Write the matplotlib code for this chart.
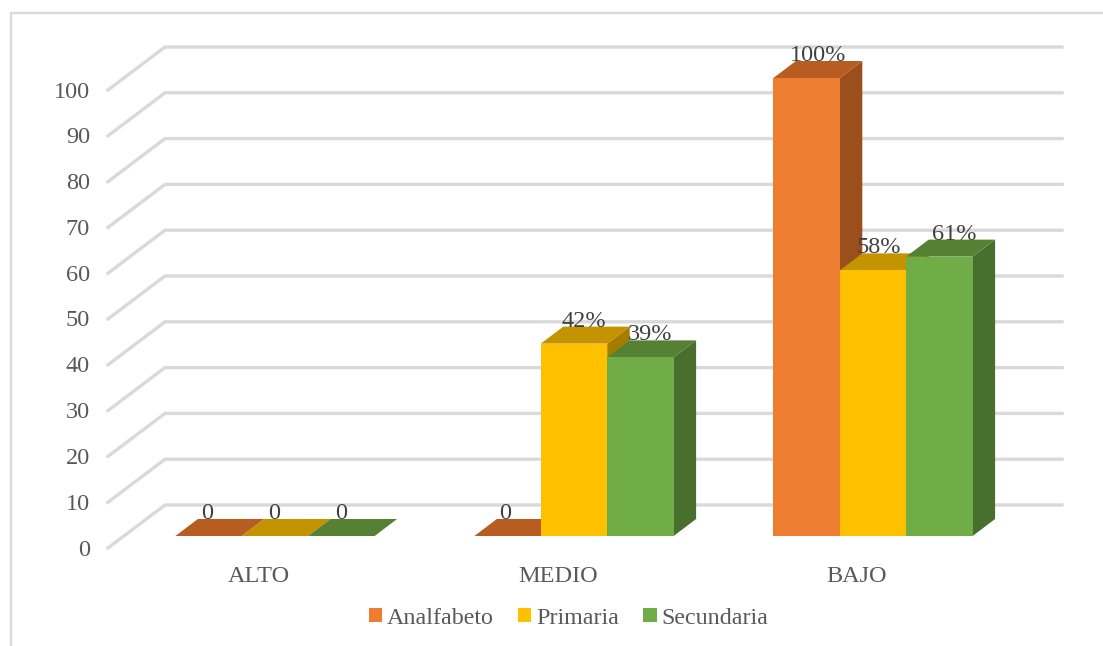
import matplotlib
matplotlib.use('Agg')
import matplotlib.pyplot as plt
from matplotlib.patches import Polygon, Patch

plt.rcParams['font.family'] = ['Liberation Serif', 'DejaVu Serif']

categories = ['ALTO', 'MEDIO', 'BAJO']
series_names = ['Analfabeto', 'Primaria', 'Secundaria']
analfabeto = [0, 0, 100]
primaria = [0, 42, 58]
secundaria = [0, 39, 61]
y_ticks = [0, 10, 20, 30, 40, 50, 60, 70, 80, 90, 100]

front_colors = ['#ED7D31', '#FFC000', '#70AD47']
top_colors = ['#B85D22', '#C49300', '#568135']
side_colors = ['#9A4F1C', '#A67C00', '#496F2E']
grid_color = '#D9D9D9'
text_color = '#404040'
axis_text_color = '#595959'

W, H = 1103, 646
# pixel layout of the chart, the axes fill the whole figure
PX_CAT0 = 275
PX_CAT = 299
PX_BASE = 536
PX_UNIT = 4.58
bar_w = 66.4 / PX_CAT
depth_x = 22.5 / PX_CAT
depth_y = 17 / PX_UNIT

fig = plt.figure(figsize=(W / 100, H / 100), dpi=100)
ax = fig.add_axes([0, 0, 1, 1])
ax.set_xlim(-PX_CAT0 / PX_CAT, (W - PX_CAT0) / PX_CAT)
ax.set_ylim((PX_BASE - H) / PX_UNIT, PX_BASE / PX_UNIT)
ax.axis('off')


def px_x(px):
    return (px - PX_CAT0) / PX_CAT


def px_dy(px):
    return px / PX_UNIT


# chart frame
ax.plot([px_x(11), px_x(11)], [px_dy(PX_BASE - 646), px_dy(PX_BASE - 13)], color=grid_color, lw=1.6, zorder=1)
ax.plot([px_x(11), px_x(1103)], [px_dy(PX_BASE - 13), px_dy(PX_BASE - 13)], color=grid_color, lw=1.6, zorder=1)

# walls
for v in y_ticks:
    ax.plot([px_x(108), px_x(165), px_x(1062)],
            [v + px_dy(-12), v + px_dy(31), v + px_dy(31)],
            color=grid_color, lw=2.4, solid_joinstyle='miter', zorder=1)
    ax.text(px_x(90), v + px_dy(-14), str(v), ha='right', va='center',
            fontsize=17.5, color=axis_text_color)

# bars, left to right so that later bars paint over earlier sides
all_series = [analfabeto, primaria, secundaria]
z = 2
for c in range(len(categories)):
    for s, values in enumerate(all_series):
        v = values[c]
        x0 = c + (s - 1.5) * bar_w
        x1 = x0 + bar_w
        if v > 0:
            ax.add_patch(Polygon([(x1, 0), (x1 + depth_x, depth_y), (x1 + depth_x, v + depth_y), (x1, v)],
                                 facecolor=side_colors[s], edgecolor='none', zorder=z))
        ax.add_patch(Polygon([(x0, v), (x0 + depth_x, v + depth_y), (x1 + depth_x, v + depth_y), (x1, v)],
                             facecolor=top_colors[s], edgecolor='none', zorder=z))
        if v > 0:
            ax.bar(x0, v, width=bar_w, align='edge', color=front_colors[s], zorder=z)
        z += 1

# value labels
label_nudge = {(2, 1): 6, (2, 2): 15, (1, 1): 10, (1, 2): 10, (2, 0): 11, (1, 0): -2, (0, 0): -1, (0, 1): -1}
for c in range(len(categories)):
    for s, values in enumerate(all_series):
        v = values[c]
        x = c + (s - 1) * bar_w + label_nudge.get((c, s), 0) / PX_CAT
        label = f'{v}%' if v > 0 else '0'
        ax.text(x, v + px_dy(22.5), label, ha='center', va='center',
                fontsize=17.5, color=text_color, zorder=50)

# category labels
for c, name in enumerate(categories):
    ax.text(c - 16 / PX_CAT, px_dy(-40), name, ha='center', va='center',
            fontsize=17.5, color=axis_text_color)

handles = [Patch(facecolor=front_colors[i], label=series_names[i]) for i in range(3)]
ax.legend(handles=handles, loc='center', bbox_to_anchor=(568.5 / W, 1 - 618 / H),
          bbox_transform=fig.transFigure, ncol=3, frameon=False, fontsize=17.3,
          handlelength=0.56, handleheight=0.56, handletextpad=0.2, columnspacing=1.0,
          labelcolor=axis_text_color, borderpad=0)

plt.savefig('out.png', dpi=100)
